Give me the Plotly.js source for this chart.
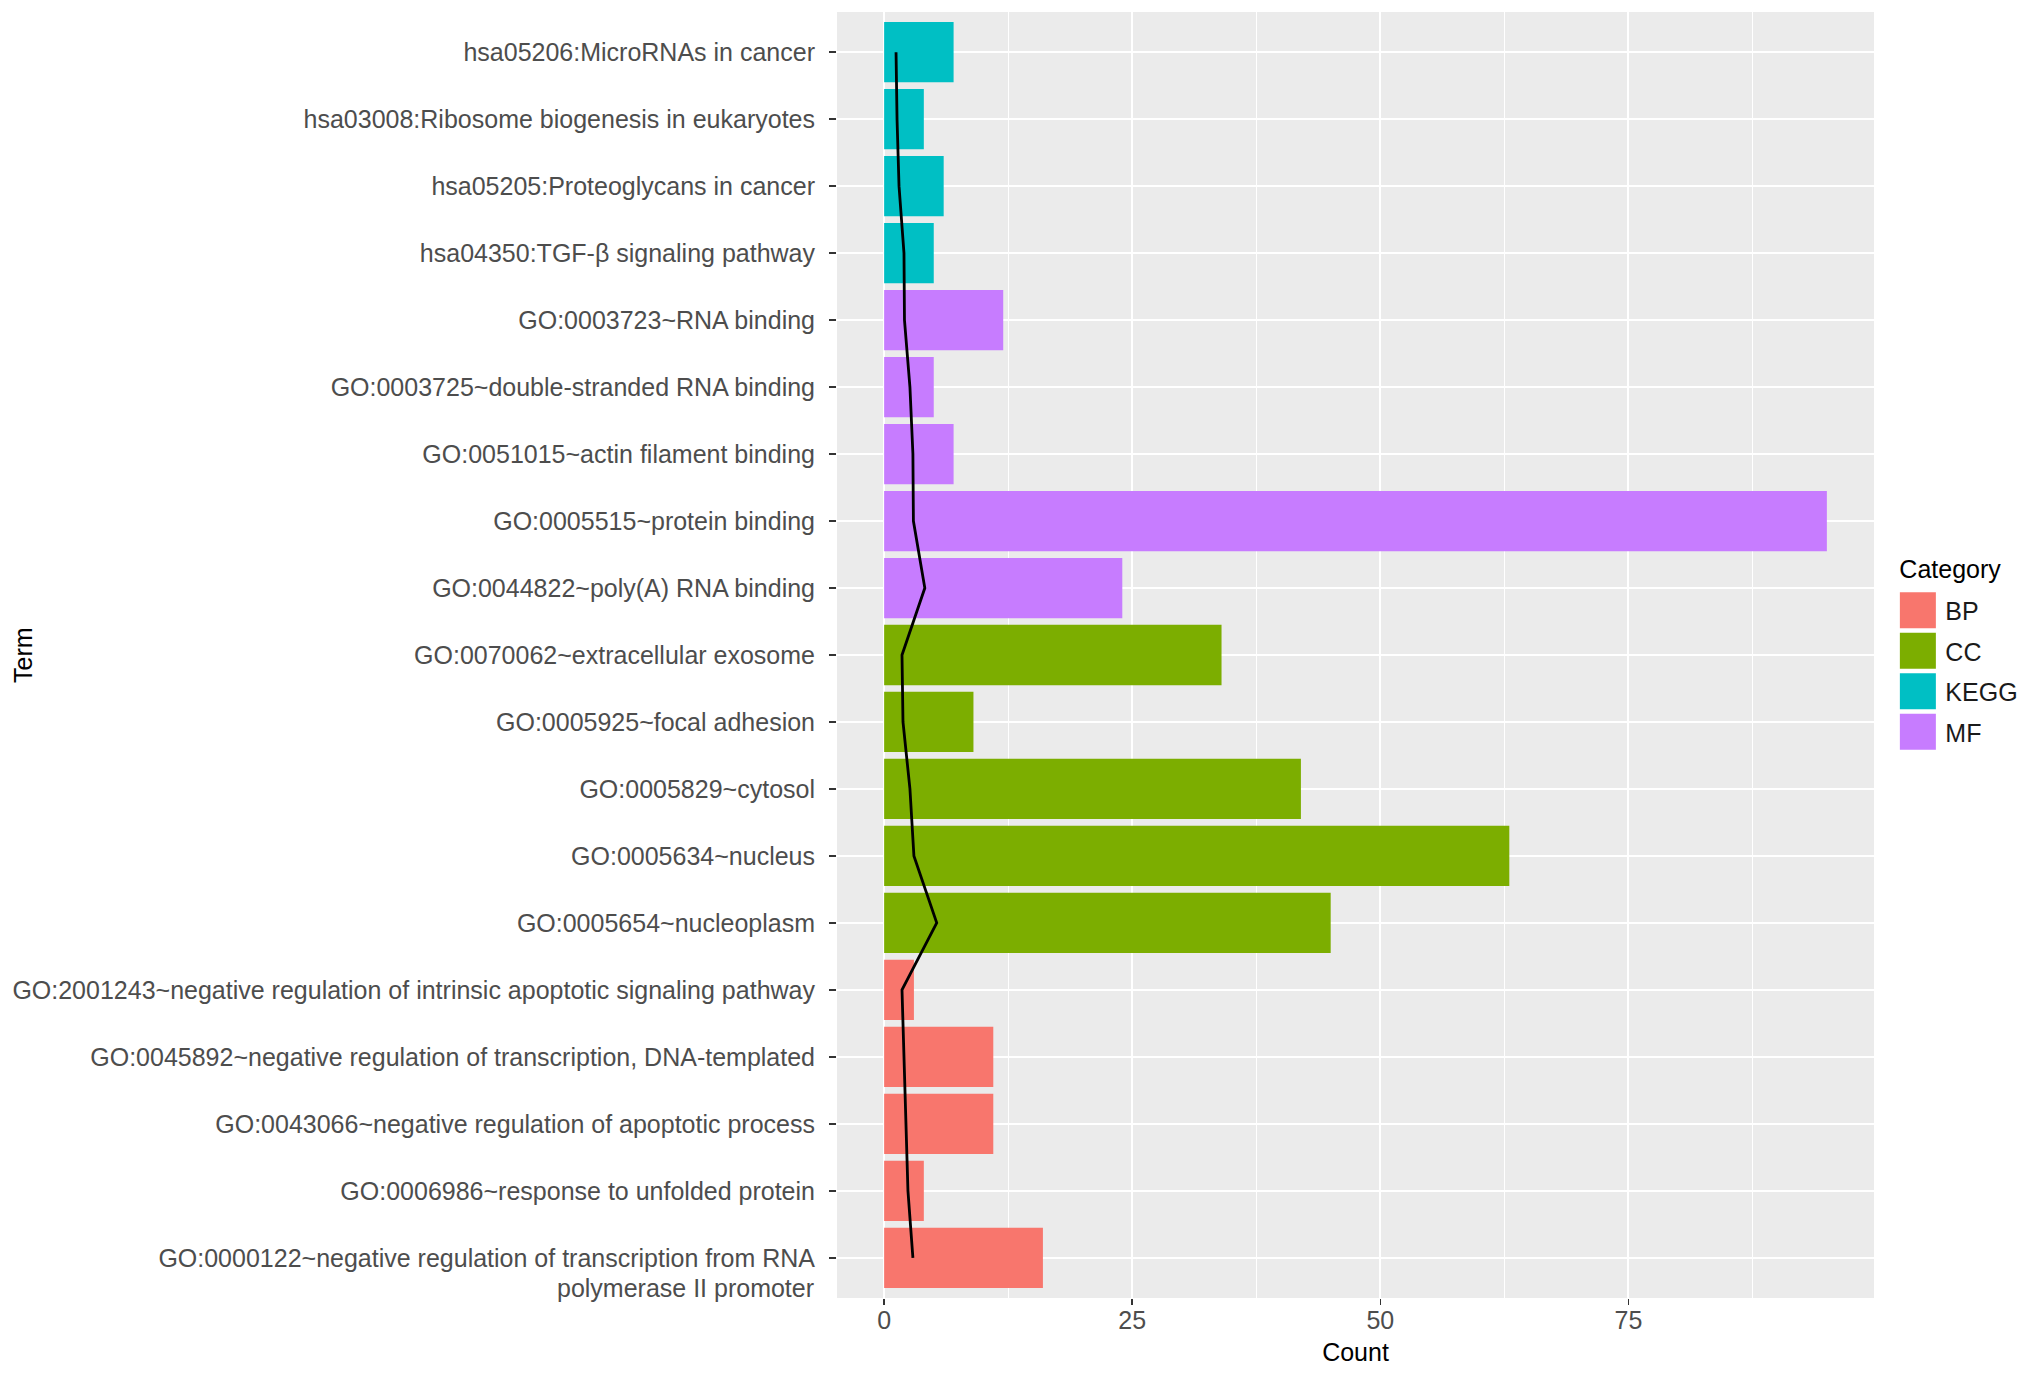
<!DOCTYPE html>
<html>
<head>
<meta charset="utf-8">
<script src="https://cdn.plot.ly/plotly-3.0.1.min.js"></script>
<style>html,body{margin:0;padding:0;background:#fff;}#chart{width:2032px;height:1375px;}</style>
</head>
<body>
<div id="chart"></div>
<script>
// Terms, top to bottom
const terms = [
  "hsa05206:MicroRNAs in cancer",
  "hsa03008:Ribosome biogenesis in eukaryotes",
  "hsa05205:Proteoglycans in cancer",
  "hsa04350:TGF-β signaling pathway",
  "GO:0003723~RNA binding",
  "GO:0003725~double-stranded RNA binding",
  "GO:0051015~actin filament binding",
  "GO:0005515~protein binding",
  "GO:0044822~poly(A) RNA binding",
  "GO:0070062~extracellular exosome",
  "GO:0005925~focal adhesion",
  "GO:0005829~cytosol",
  "GO:0005634~nucleus",
  "GO:0005654~nucleoplasm",
  "GO:2001243~negative regulation of intrinsic apoptotic signaling pathway",
  "GO:0045892~negative regulation of transcription, DNA-templated",
  "GO:0043066~negative regulation of apoptotic process",
  "GO:0006986~response to unfolded protein",
  "GO:0000122~negative regulation of transcription from RNA polymerase II promoter"
];
// tick label lines (first line at the tick, continuation line below)
const tickLabels = [
  "hsa05206:MicroRNAs in cancer",
  "hsa03008:Ribosome biogenesis in eukaryotes",
  "hsa05205:Proteoglycans in cancer",
  "hsa04350:TGF-β signaling pathway",
  "GO:0003723~RNA binding",
  "GO:0003725~double-stranded RNA binding",
  "GO:0051015~actin filament binding",
  "GO:0005515~protein binding",
  "GO:0044822~poly(A) RNA binding",
  "GO:0070062~extracellular exosome",
  "GO:0005925~focal adhesion",
  "GO:0005829~cytosol",
  "GO:0005634~nucleus",
  "GO:0005654~nucleoplasm",
  "GO:2001243~negative regulation of intrinsic apoptotic signaling pathway",
  "GO:0045892~negative regulation of transcription, DNA-templated",
  "GO:0043066~negative regulation of apoptotic process",
  "GO:0006986~response to unfolded protein",
  "GO:0000122~negative regulation of transcription from RNA"
];
const tickLabelContinuation = ["", "", "", "", "", "", "", "", "", "", "", "", "", "", "", "", "", "", "polymerase II promoter"];
const termCategory = ["KEGG","KEGG","KEGG","KEGG","MF","MF","MF","MF","MF","CC","CC","CC","CC","CC","BP","BP","BP","BP","BP"];
const counts = [7,4,6,5,12,5,7,95,24,34,9,42,63,45,3,11,11,4,16];
const lineValues = [1.2,1.3,1.5,2.0,2.05,2.6,2.9,2.95,4.1,1.8,1.9,2.6,3.0,5.3,1.8,2.0,2.15,2.4,2.9];
const categories = ["BP","CC","KEGG","MF"];
const categoryColors = ["#F8766D","#7CAE00","#00BFC4","#C77CFF"];
const xTicks = [0,25,50,75];

const FONT = "Liberation Sans, Arial, Helvetica, sans-serif";

const traces = categories.map((cat, ci) => {
  const ys = [], xs = [];
  terms.forEach((t, i) => { if (termCategory[i] === cat) { ys.push(t); xs.push(counts[i]); } });
  return {
    type: "bar", orientation: "h", name: cat, x: xs, y: ys,
    width: 0.9, marker: {color: categoryColors[ci], line: {width: 0}},
    legendgroup: cat, hoverinfo: "x+y"
  };
});
traces.push({
  type: "scatter", mode: "lines", x: lineValues, y: terms,
  line: {color: "#000000", width: 2.8}, showlegend: false, hoverinfo: "x+y"
});

const annotations = [{
  text: "Term", xref: "paper", yref: "paper", x: -0.785, y: 0.5,
  xanchor: "center", yanchor: "middle", textangle: -90, showarrow: false,
  font: {family: FONT, size: 25, color: "#000000"}
}];
tickLabelContinuation.forEach((t, i) => {
  if (t) annotations.push({
    text: t, xref: "paper", yref: "y", x: -0.0205, y: terms[i], yshift: -30,
    xanchor: "right", yanchor: "middle", showarrow: false,
    font: {family: FONT, size: 25, color: "#4D4D4D"}
  });
});

const layout = {
  width: 2032, height: 1375,
  margin: {l: 837, r: 158, t: 12, b: 77, autoexpand: false},
  paper_bgcolor: "#ffffff", plot_bgcolor: "#EBEBEB",
  barmode: "overlay", bargap: 0.1,
  font: {family: FONT, size: 25, color: "#000000"},
  showlegend: true,
  legend: {
    xref: "container", x: 0.9303, xanchor: "left", y: 0.5, yanchor: "middle",
    traceorder: "grouped", tracegroupgap: 5, itemwidth: 45,
    font: {family: FONT, size: 25, color: "#1a1a1a"},
    title: {text: "Category", font: {family: FONT, size: 25, color: "#000000"}},
    bgcolor: "rgba(0,0,0,0)", borderwidth: 0, itemclick: false
  },
  xaxis: {
    range: [-4.75, 99.75], tickvals: xTicks, ticktext: xTicks.map(String),
    showgrid: true, gridcolor: "#ffffff", gridwidth: 2.2,
    minor: {dtick: 12.5, tick0: 12.5, showgrid: true, gridcolor: "#ffffff", gridwidth: 1.1, ticklen: 0},
    zeroline: false, showline: false,
    ticks: "outside", ticklen: 6, tickwidth: 1.6, tickcolor: "#333333",
    ticklabelstandoff: -6,
    tickfont: {family: FONT, size: 25, color: "#4D4D4D"},
    title: {text: "Count", font: {family: FONT, size: 25, color: "#000000"}, standoff: 10},
    automargin: false, fixedrange: true
  },
  yaxis: {
    type: "category", categoryorder: "array", categoryarray: terms,
    range: [18.6, -0.6], tickvals: terms, ticktext: tickLabels,
    showgrid: true, gridcolor: "#ffffff", gridwidth: 2.2,
    zeroline: false, showline: false,
    ticks: "outside", ticklen: 7, tickwidth: 1.6, tickcolor: "#333333",
    ticklabelstandoff: 9,
    tickfont: {family: FONT, size: 25, color: "#4D4D4D"},
    automargin: false, fixedrange: true
  },
  annotations: annotations
};

Plotly.newPlot("chart", traces, layout, {displayModeBar: false, staticPlot: true}).then(gd => {
  // enlarge legend keys to match ggplot-style square keys
  document.querySelectorAll("#chart .legend .legendpoints path").forEach(p => {
    p.setAttribute("d", "M18,18H-18V-18H18Z");
  });
  const title = document.querySelector("#chart .legend .legendtitletext");
  if (title) title.setAttribute("transform", "translate(7,-10)");
});
</script>
</body>
</html>
